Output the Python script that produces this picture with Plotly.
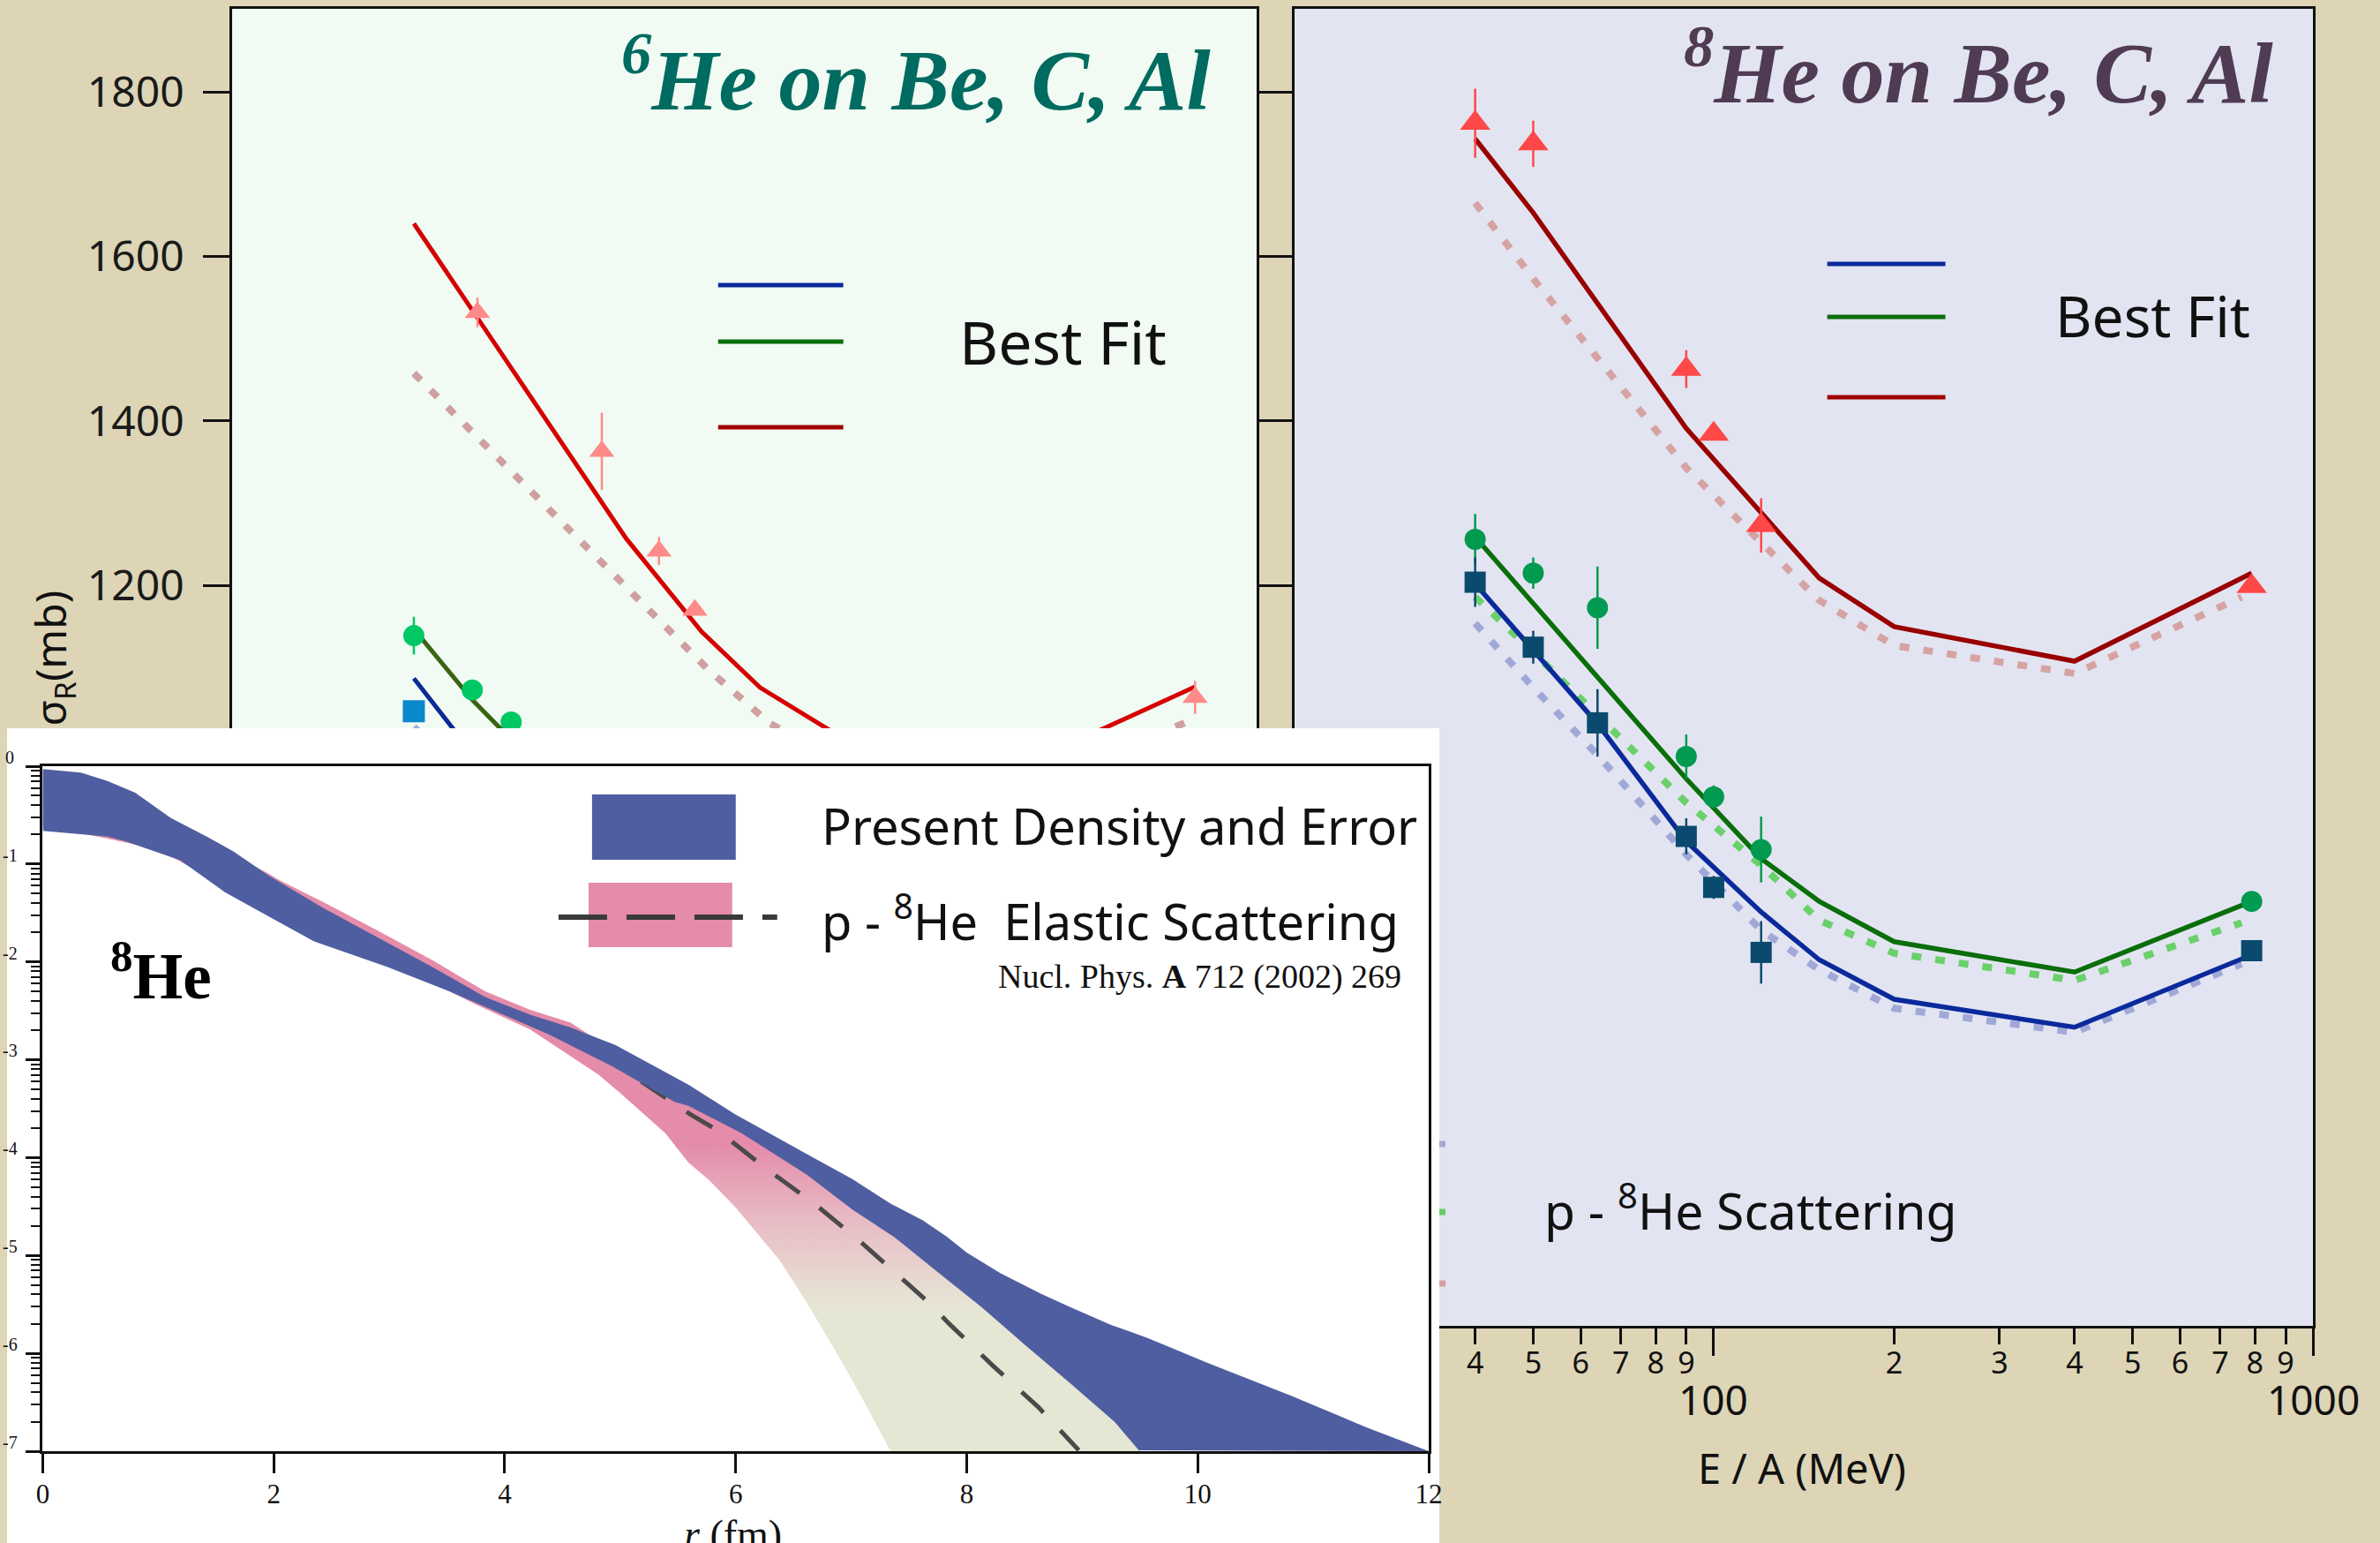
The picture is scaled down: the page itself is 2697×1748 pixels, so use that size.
import math
import plotly.graph_objects as go

W, H = 2697, 1748

# ---------------- 6He (left panel) : reaction cross sections, mb ----------------
E6_al = [51, 82, 102, 117, 790]
s6_al = [1532, 1363, 1242, 1170, 1064]
e6_al = [18, 47, 17, 0, 20]
E6_c = [40, 50, 58]
s6_c = [1139, 1073, 1034]
e6_c = [23, 0, 0]
E6_be = [40]
s6_be = [1047]

E6_fit_al = [40, 90, 120, 150, 200, 400, 790]
f6_al = [1640, 1257, 1144, 1076, 1020, 978, 1077]
E6_pp_al = [40, 80, 123, 156, 200, 400, 772]
p6_al = [1458, 1237, 1098, 1032, 990, 950, 1035]
E6_fit_c = [40, 50, 90, 150, 200, 400, 790]
f6_c = [1147, 1061, 870, 760, 720, 690, 770]
E6_fit_be = [40, 50, 90, 150, 200, 400, 790]
f6_be = [1087, 996, 810, 700, 660, 630, 710]
E6_pp_be = [40, 90, 150, 200, 400, 760]
p6_be = [1028, 780, 680, 640, 610, 690]

# ---------------- 8He (right panel) ----------------
E8_al = [40, 50, 90, 100, 120, 790]
s8_al = [1762, 1737, 1463, 1384, 1273, 1199]
e8_al = [42, 28, 23, 0, 33, 0]
E8_c = [40, 50, 64, 90, 100, 120, 790]
s8_c = [1256, 1215, 1173, 992, 943, 879, 816]
e8_c = [31, 19, 50, 27, 14, 40, 0]
E8_be = [40, 50, 64, 90, 100, 120, 790]
s8_be = [1204, 1125, 1033, 895, 833, 754, 756]
e8_be = [30, 20, 41, 22, 14, 38, 0]

E8_fit_al = [40, 50, 90, 150, 200, 400, 790]
f8_al = [1743, 1653, 1391, 1209, 1150, 1108, 1215]
E8_pp_al = [40, 50, 90, 150, 200, 400, 760]
p8_al = [1665, 1573, 1343, 1182, 1127, 1093, 1186]
E8_fit_c = [40, 90, 120, 150, 200, 400, 790]
f8_c = [1259, 965, 868, 816, 767, 730, 816]
E8_pp_c = [40, 50, 90, 120, 150, 200, 400, 760]
p8_c = [1186, 1119, 936, 860, 793, 753, 720, 790]
E8_fit_be = [40, 64, 90, 120, 150, 200, 400, 790]
f8_be = [1202, 1032, 889, 803, 745, 697, 663, 751]
E8_pp_be = [40, 50, 64, 90, 120, 150, 200, 400, 760]
p8_be = [1154, 1076, 994, 873, 781, 733, 686, 657, 740]

# ---------------- 8He density (inset), log10(rho) vs r (fm) ----------------
r_blue_up = [0, 0.33, 0.56, 0.80, 1.11, 1.42, 1.65, 1.96, 2.43, 2.90, 3.37, 3.83, 4.22, 4.57,
             4.96, 5.59, 6.0, 6.61, 7.01, 7.34, 7.62, 7.83, 8.0, 8.29, 8.64, 8.90, 9.25, 9.56,
             10.09, 10.80, 11.47, 12.0]
lg_blue_up = [-0.03, -0.066, -0.15, -0.27, -0.53, -0.72, -0.87, -1.12, -1.45, -1.75, -2.05, -2.36,
              -2.54, -2.67, -2.85, -3.255, -3.56, -3.96, -4.22, -4.47, -4.64, -4.81, -4.97, -5.18,
              -5.39, -5.53, -5.71, -5.84, -6.10, -6.43, -6.76, -7.0]
r_blue_lo = [0, 0.56, 0.72, 1.19, 1.58, 2.04, 2.35, 2.98, 3.52, 3.83, 4.38, 4.92, 5.47, 5.59,
             6.05, 6.61, 7.01, 7.37, 7.75, 8.13, 8.51, 8.90, 9.28, 9.49, 12.0]
lg_blue_lo = [-0.66, -0.72, -0.77, -0.96, -1.29, -1.59, -1.79, -2.05, -2.30, -2.46, -2.74, -3.06,
              -3.43, -3.47, -3.75, -4.17, -4.53, -4.81, -5.17, -5.53, -5.92, -6.31, -6.70, -6.99, -7.0]
r_pink_up = [0, 1.0, 1.96, 2.04, 2.43, 2.90, 3.37, 3.83, 4.22, 4.57, 5.0, 5.6, 6.0, 6.6, 7.0,
             7.4, 7.8, 8.2, 8.6, 9.0, 9.3, 9.5]
lg_pink_up = [-0.05, -0.5, -1.1, -1.16, -1.39, -1.68, -1.98, -2.30, -2.49, -2.62, -2.95, -3.35,
              -3.62, -4.05, -4.4, -4.75, -5.1, -5.45, -5.85, -6.25, -6.6, -7.0]
r_pink_lo = [0, 1.0, 2.0, 3.0, 3.76, 4.22, 4.46, 4.81, 5.0, 5.39, 5.59, 5.77, 6.0, 6.17, 6.38,
             6.61, 6.73, 6.91, 7.11, 7.34]
lg_pink_lo = [-0.6, -0.85, -1.5, -2.0, -2.44, -2.69, -2.88, -3.15, -3.34, -3.75, -4.05, -4.23,
              -4.51, -4.75, -5.05, -5.47, -5.71, -6.07, -6.49, -7.0]
r_dash = [5.18, 5.61, 5.84, 6.25, 6.68, 7.09, 7.47, 7.67, 7.85, 8.23, 8.62, 8.97]
lg_dash = [-3.22, -3.56, -3.72, -4.10, -4.47, -4.87, -5.27, -5.48, -5.70, -6.13, -6.55, -6.99]

ytick_vals = [400, 600, 800, 1000, 1200, 1400, 1600, 1800]
xtick_vals = [40, 50, 60, 70, 80, 90, 100, 200, 300, 400, 500, 600, 700, 800, 900, 1000]
xtick_text = ['4', '5', '6', '7', '8', '9', '', '2', '3', '4', '5', '6', '7', '8', '9', '']
inset_exp_labels = ['0', '-1', '-2', '-3', '-4', '-5', '-6', '-7']
inset_r_ticks = [0, 2, 4, 6, 8, 10, 12]

# ---------------- helpers (pixel -> paper) ----------------
SX, OX = 0.992, 5.5   # horizontal calibration of the rendered page


def X(px):
    return min(1.0, max(0.0, (px - OX) / SX / W))


def Y(py):
    return 1 - py / H


SANS = 'Noto Sans'
SERIF = 'Liberation Serif'

fig = go.Figure()


def line(x, y, color, width=5, dash=None, xa='x', ya='y'):
    fig.add_trace(go.Scatter(x=x, y=y, mode='lines', xaxis=xa, yaxis=ya,
                             line=dict(color=color, width=width, dash=dash),
                             hoverinfo='skip', showlegend=False))


def pts(x, y, err, color, symbol, size, xa='x', ya='y'):
    fig.add_trace(go.Scatter(x=x, y=y, mode='markers', xaxis=xa, yaxis=ya,
                             marker=dict(color=color, symbol=symbol, size=size, line=dict(width=0)),
                             error_y=dict(type='data', array=err, visible=True, thickness=2.5,
                                          width=0, color=color) if err is not None else None,
                             hoverinfo='skip', showlegend=False))


DOT = '11px,16px'

# left panel (6He)
line(E6_pp_al, p6_al, '#cfa0a0', 8, DOT)
line(E6_pp_be, p6_be, '#a0a8d8', 8, DOT)
line(E6_fit_al, f6_al, '#d50000', 5)
line(E6_fit_c, f6_c, '#3a6412', 5)
line(E6_fit_be, f6_be, '#0b2a95', 5)
pts(E6_al, s6_al, e6_al, '#ff8a8a', 'triangle-up', 25)
pts(E6_c, s6_c, e6_c, '#00c864', 'circle', 24)
pts(E6_be, s6_be, None, '#0a88cc', 'square', 25)

# right panel (8He)
line(E8_pp_al, p8_al, '#d6a3a3', 8, DOT, 'x2', 'y2')
line(E8_pp_c, p8_c, '#6ad06a', 8, DOT, 'x2', 'y2')
line(E8_pp_be, p8_be, '#a0a8d8', 8, DOT, 'x2', 'y2')
line(E8_fit_al, f8_al, '#990000', 5.5, None, 'x2', 'y2')
line(E8_fit_c, f8_c, '#0a6e0a', 5.5, None, 'x2', 'y2')
line(E8_fit_be, f8_be, '#0a2a9c', 5.5, None, 'x2', 'y2')
pts(E8_al, s8_al, e8_al, '#ff4848', 'triangle-up', 30, 'x2', 'y2')
pts(E8_c, s8_c, e8_c, '#009a50', 'circle', 24, 'x2', 'y2')
pts(E8_be, s8_be, e8_be, '#0a4a6e', 'square', 24, 'x2', 'y2')

# white card behind the inset (own invisible unit-square axes)
fig.add_trace(go.Scatter(x=[0, 1, 1, 0], y=[0, 0, 1, 1], mode='lines', fill='toself',
                         fillcolor='white', line=dict(width=0), xaxis='x3', yaxis='y3',
                         hoverinfo='skip', showlegend=False))


# inset: density bands
def pow10(arr):
    return [10 ** v for v in arr]


fig.add_trace(go.Scatter(
    x=r_pink_up + r_pink_lo[::-1], y=pow10(lg_pink_up + lg_pink_lo[::-1]),
    mode='lines', fill='toself', line=dict(width=0), xaxis='x4', yaxis='y4',
    fillgradient=dict(type='vertical', colorscale=[
        [0, '#e6e6d5'], [0.21, '#e6e6d5'], [0.256, '#e7d8cf'], [0.343, '#e8bac4'],
        [0.45, '#e48caa'], [1, '#e48caa']]),
    hoverinfo='skip', showlegend=False))
fig.add_trace(go.Scatter(x=r_dash, y=pow10(lg_dash), mode='lines', xaxis='x4', yaxis='y4',
                         line=dict(color='#4a4a4a', width=5, dash='34px,28px'),
                         hoverinfo='skip', showlegend=False))
fig.add_trace(go.Scatter(
    x=r_blue_up + r_blue_lo[::-1], y=pow10(lg_blue_up + lg_blue_lo[::-1]),
    mode='lines', fill='toself', fillcolor='#4f5ea0', line=dict(width=0, color='#4f5ea0'),
    xaxis='x4', yaxis='y4', hoverinfo='skip', showlegend=False))

# ---------------- axes ----------------
panel_y_dom = [Y(1502), Y(10)]
xlog_range = [math.log10(20), 3]
yrange = [300, 1901]


def energy_axis(dom, anchor):
    return dict(type='log', range=xlog_range, domain=dom, anchor=anchor,
                showline=True, linecolor='#111', linewidth=3, mirror=True,
                ticks='outside', ticklen=18, tickwidth=3, tickcolor='#111',
                tickmode='array', tickvals=xtick_vals, ticktext=xtick_text,
                tickfont=dict(family=SANS, size=34, color='#111'), ticklabelstandoff=-8,
                minor=dict(tickmode='array', tickvals=[100, 1000], ticks='outside',
                           ticklen=31, tickwidth=3, tickcolor='#111'),
                showgrid=False, zeroline=False)


fig.update_layout(
    width=W, height=H, margin=dict(l=0, r=0, t=0, b=0),
    paper_bgcolor='#ddd5b6', plot_bgcolor='rgba(0,0,0,0)', showlegend=False,
    xaxis=energy_axis([X(261), X(1423)], 'y'),
    yaxis=dict(range=yrange, domain=panel_y_dom, anchor='x', showline=True, linecolor='#111',
               linewidth=3, mirror='ticks', ticks='outside', ticklen=30, tickwidth=3,
               tickcolor='#111', tickmode='array', tickvals=ytick_vals,
               tickfont=dict(family=SANS, size=48, color='#1a1a1a'), ticklabelstandoff=12,
               showgrid=False, zeroline=False),
    xaxis2=energy_axis([X(1466), X(2621)], 'y2'),
    yaxis2=dict(range=yrange, domain=panel_y_dom, anchor='x2', showline=True, linecolor='#111',
                linewidth=3, mirror=True, ticks='outside', ticklen=26, tickwidth=3,
                tickcolor='#111', tickmode='array', tickvals=ytick_vals, showticklabels=False,
                showgrid=False, zeroline=False),
    xaxis3=dict(domain=[0, X(1630)], range=[0, 1], visible=False, anchor='y3', fixedrange=True),
    yaxis3=dict(domain=[0, Y(825)], range=[0, 1], visible=False, anchor='x3', fixedrange=True),
    xaxis4=dict(domain=[X(46), X(1618)], range=[0, 12], anchor='y4', showline=True,
                linecolor='#111', linewidth=3, mirror=True, ticks='outside', ticklen=22,
                tickwidth=3, tickcolor='#111', tickmode='array', tickvals=inset_r_ticks,
                tickfont=dict(family=SERIF, size=31, color='#111'), ticklabelstandoff=-3,
                showgrid=False, zeroline=False),
    yaxis4=dict(type='log', domain=[Y(1644), Y(868)], range=[-7, 0], anchor='x4', dtick=1,
                showline=True, linecolor='#111', linewidth=3, mirror=True, ticks='outside',
                ticklen=16, tickwidth=3, tickcolor='#111', showticklabels=False,
                minor=dict(dtick='D1', ticks='outside', ticklen=10, tickwidth=2, tickcolor='#111'),
                showgrid=False, zeroline=False),
)

# ---------------- shapes ----------------
shapes = [
    dict(type='rect', xref='paper', yref='paper', x0=X(261), x1=X(1423), y0=Y(1502), y1=Y(10),
         fillcolor='#f1fbf3', line=dict(width=0), layer='below'),
    dict(type='rect', xref='paper', yref='paper', x0=X(1466), x1=X(2621), y0=Y(1502), y1=Y(10),
         fillcolor='#e3e4f1', line=dict(width=0), layer='below'),
]
for (x0, x1, ys) in [(812, 954, [323, 387, 484]), (2070, 2204, [299, 359, 450])]:
    for yy, col in zip(ys, ['#0a2a9c', '#0a6e0a', '#a00000']):
        shapes.append(dict(type='line', xref='paper', yref='paper', x0=X(x0), x1=X(x1),
                           y0=Y(yy), y1=Y(yy), line=dict(color=col, width=5), layer='above'))
for yy, col in zip([1296, 1373, 1454], ['#a0a8d8', '#66cc66', '#d6a0a0']):
    shapes.append(dict(type='line', xref='paper', yref='paper', x0=X(1630), x1=X(1637),
                       y0=Y(yy), y1=Y(yy), line=dict(color=col, width=7), layer='above'))
shapes += [
    dict(type='rect', xref='paper', yref='paper', x0=X(669), x1=X(832), y0=Y(974), y1=Y(900),
         fillcolor='#4f5ea0', line=dict(width=0), layer='above'),
    dict(type='rect', xref='paper', yref='paper', x0=X(665), x1=X(828), y0=Y(1073), y1=Y(1000),
         fillcolor='#e48caa', line=dict(width=0), layer='above'),
    dict(type='line', xref='paper', yref='paper', x0=X(631), x1=X(879), y0=Y(1039), y1=Y(1039),
         line=dict(color='#3a3a3a', width=6, dash='55px,22px'), layer='above'),
]
fig.update_layout(shapes=shapes)


# ---------------- text ----------------
def ann(text, x, y, size, family=SANS, color='#111', xanchor='left', yanchor='middle', **kw):
    d = dict(text=text, x=x, y=y, xref=kw.pop('xref', 'paper'), yref=kw.pop('yref', 'paper'),
             xanchor=xanchor, yanchor=yanchor, showarrow=False,
             font=dict(family=family, size=size, color=color))
    d.update(kw)
    fig.add_annotation(**d)


ann('<b><i><sup>6</sup>He on Be, C, Al</i></b>', X(1373), Y(84), 98, SERIF, '#006b60', 'right')
ann('<b><i><sup>8</sup>He on Be, C, Al</i></b>', X(2578), Y(76), 98, SERIF, '#4f3b52', 'right')
ann('Best Fit', X(1083), Y(386), 68)
ann('Best Fit', X(2327), Y(357), 64)
ann('p - <sup>8</sup>He Scattering', X(1747), Y(1368), 57)
ann('100', 2, Y(1585), 46, xanchor='center', xref='x2')
ann('1000', 3, Y(1585), 46, xanchor='center', xref='x2')
ann('E / A (MeV)', X(2041), Y(1663), 47, xanchor='center')
ann('σ<sub>R</sub>(mb)', X(57), Y(745), 48, xanchor='center', textangle=-90)

ann('<b><sup>8</sup>He</b>', X(121), Y(1100), 73, SERIF, '#000')
ann('Present Density and Error', X(927), Y(935), 56)
ann('p - <sup>8</sup>He\u00a0\u00a0Elastic Scattering', X(927), Y(1040), 56)
ann('Nucl. Phys. <b>A</b> 712 (2002) 269', X(1128), Y(1106), 38, SERIF)
ann('<i>r</i> (fm)', X(829), Y(1738), 46, SERIF, xanchor='center')
for k, lab in enumerate(inset_exp_labels):
    ann(lab, X(9), Y(858 + 110.8 * k), 20, SERIF, xanchor='center')

fig.write_html('out.html')
